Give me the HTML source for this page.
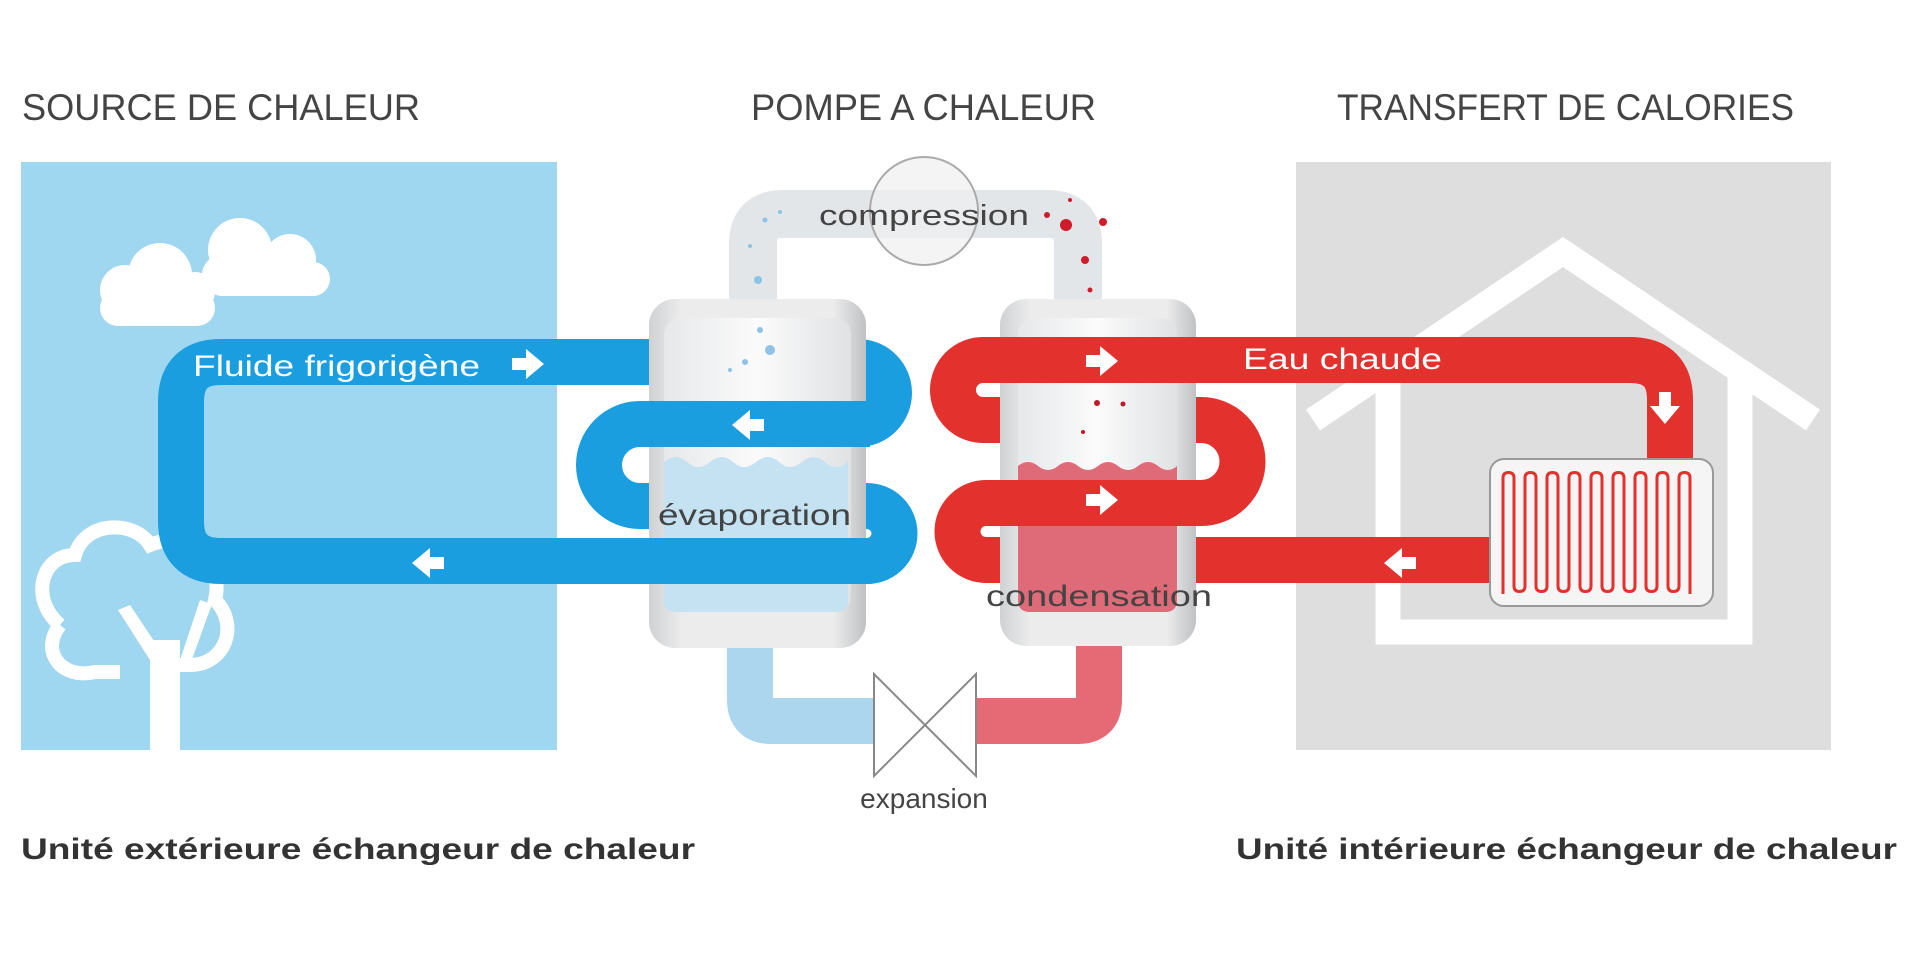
<!DOCTYPE html>
<html><head><meta charset="utf-8"><style>
html,body{margin:0;padding:0;background:#fff;}
svg{display:block;}
text{font-family:"Liberation Sans",sans-serif;}
</style></head><body>
<svg width="1920" height="962" viewBox="0 0 1920 962" xmlns="http://www.w3.org/2000/svg">
<defs>
<linearGradient id="cyl" x1="0" x2="1" y1="0" y2="0">
<stop offset="0" stop-color="#cfd1d4"/><stop offset="0.15" stop-color="#ececec"/><stop offset="0.85" stop-color="#ececec"/><stop offset="1" stop-color="#bfc1c4"/>
</linearGradient>
<linearGradient id="inner" x1="0" x2="1"><stop offset="0" stop-color="#e6e8ea"/><stop offset="0.5" stop-color="#fbfbfb"/><stop offset="1" stop-color="#e0e2e4"/></linearGradient>
</defs>
<rect width="1920" height="962" fill="#fff"/>
<text x="22" y="120" font-size="37" fill="#444" textLength="398" lengthAdjust="spacingAndGlyphs">SOURCE DE CHALEUR</text>
<text x="751" y="120" font-size="37" fill="#444" textLength="345" lengthAdjust="spacingAndGlyphs">POMPE A CHALEUR</text>
<text x="1337" y="120" font-size="37" fill="#444" textLength="457" lengthAdjust="spacingAndGlyphs">TRANSFERT DE CALORIES</text>
<rect x="21" y="162" width="536" height="588" fill="#9fd6f0"/>
<rect x="1296" y="162" width="535" height="588" fill="#dedede"/>
<g fill="#fff">
<circle cx="125" cy="290" r="25"/><circle cx="160" cy="275" r="32"/><circle cx="195" cy="292" r="20"/><rect x="100" y="290" width="115" height="36" rx="18"/>
<circle cx="240" cy="250" r="32"/><circle cx="290" cy="260" r="26"/><circle cx="222" cy="275" r="20"/><rect x="205" y="262" width="125" height="34" rx="17"/>
</g>
<g fill="none" stroke="#fff" stroke-width="14">
<path d="M60,625 C30,600 40,555 75,555 C85,520 135,520 150,545 C185,530 225,560 215,600 C240,625 225,665 190,665 L150,665 M60,625 C40,650 60,680 95,672 L120,672"/>
</g>
<g fill="#fff">
<rect x="150" y="640" width="30" height="112"/>
<path d="M150,660 L118,610 L130,605 L160,650Z"/>
<path d="M180,660 L200,600 L212,604 L190,665Z"/>
</g>
<g fill="none" stroke="#fff" stroke-width="25">
<polyline points="1313,420 1563,252 1813,420"/>
<polyline points="1388,372 1388,632 1740,632 1740,372"/>
</g>
<path d="M753,310 L753,244 Q753,214 783,214 L1048,214 Q1078,214 1078,244 L1078,310" fill="none" stroke="#e3e6e9" stroke-width="48"/>
<g fill="#8cc3e6"><circle cx="765" cy="220" r="2.5"/><circle cx="750" cy="246" r="2"/><circle cx="758" cy="280" r="4"/><circle cx="780" cy="212" r="2"/></g>
<g fill="#d01c2a"><circle cx="1066" cy="225" r="6"/><circle cx="1047" cy="215" r="3"/><circle cx="1103" cy="222" r="4"/><circle cx="1085" cy="260" r="4"/><circle cx="1090" cy="290" r="2.5"/><circle cx="1070" cy="200" r="2"/></g>
<circle cx="924" cy="211" r="54" fill="#f0f0f0" fill-opacity="0.7" stroke="#aaa" stroke-width="2"/>
<text x="924" y="225" font-size="29" fill="#444" text-anchor="middle" textLength="210" lengthAdjust="spacingAndGlyphs">compression</text>
<path d="M750,640 L750,700 Q750,721 771,721 L873,721" fill="none" stroke="#abd6ee" stroke-width="46"/>
<path d="M1099,640 L1099,700 Q1099,721 1078,721 L976,721" fill="none" stroke="#e66a76" stroke-width="46"/>
<path d="M874,674 L976,776 L976,674 L874,776Z" fill="#fff" stroke="#888" stroke-width="2"/>
<text x="924" y="808" font-size="28" fill="#444" text-anchor="middle">expansion</text>
<path d="M858,362 A31,31 0 0 1 858,424 L640,424 A41,41 0 0 0 640,506 L867,506 A27.5,27.5 0 0 1 867,561 L221,561 Q181,561 181,521 L181,402 Q181,362 221,362 Z" fill="none" stroke="#1a9ee0" stroke-width="46"/>
<path d="M1490,560 L986,560 A28.5,28.5 0 0 1 986,503 L1201,503 A41.5,41.5 0 0 0 1201,420 L983,420 A30,30 0 0 1 983,360 L1630,360 Q1670,360 1670,400 L1670,470" fill="none" stroke="#e3312d" stroke-width="46"/>
<rect x="649" y="299" width="217" height="349" rx="26" fill="url(#cyl)"/>
<rect x="664" y="318" width="187" height="294" rx="16" fill="url(#inner)"/>
<path d="M664,462 q12,-10 23,0 t23,0 t23,0 t23,0 t23,0 t23,0 t23,0 t23,0 V600 q0,12 -12,12 H676 q-12,0 -12,-12Z" fill="#c4e2f2"/>
<g fill="#8cc3e6"><circle cx="760" cy="330" r="3"/><circle cx="770" cy="350" r="5"/><circle cx="745" cy="362" r="3"/><circle cx="730" cy="370" r="2"/></g>
<rect x="1000" y="299" width="196" height="347" rx="26" fill="url(#cyl)"/>
<rect x="1018" y="318" width="159" height="294" rx="16" fill="url(#inner)"/>
<path d="M1018,466 q10,-8 20,0 t20,0 t20,0 t20,0 t20,0 t20,0 t20,0 t19,0 V600 q0,12 -12,12 H1030 q-12,0 -12,-12Z" fill="#e06b78"/>
<g fill="#c01828"><circle cx="1097" cy="403" r="3"/><circle cx="1123" cy="404" r="2.5"/><circle cx="1083" cy="432" r="2"/></g>
<rect x="645" y="401" width="225" height="46" fill="#1a9ee0"/>
<rect x="645" y="538" width="225" height="46" fill="#1a9ee0"/>
<rect x="995" y="337" width="205" height="46" fill="#e3312d"/>
<rect x="995" y="480" width="205" height="46" fill="#e3312d"/>
<rect x="1490" y="459" width="223" height="147" rx="14" fill="#f5f5f5" stroke="#999" stroke-width="2"/>
<path d="M1503,594 V478 q0,-5.5 5.5,-5.5 t5.5,5.5 V586 q0,5.5 5.5,5.5 t5.5,-5.5 V478 q0,-5.5 5.5,-5.5 t5.5,5.5 V586 q0,5.5 5.5,5.5 t5.5,-5.5 V478 q0,-5.5 5.5,-5.5 t5.5,5.5 V586 q0,5.5 5.5,5.5 t5.5,-5.5 V478 q0,-5.5 5.5,-5.5 t5.5,5.5 V586 q0,5.5 5.5,5.5 t5.5,-5.5 V478 q0,-5.5 5.5,-5.5 t5.5,5.5 V586 q0,5.5 5.5,5.5 t5.5,-5.5 V478 q0,-5.5 5.5,-5.5 t5.5,5.5 V586 q0,5.5 5.5,5.5 t5.5,-5.5 V478 q0,-5.5 5.5,-5.5 t5.5,5.5 V586 q0,5.5 5.5,5.5 t5.5,-5.5 V478 q0,-5.5 5.5,-5.5 t5.5,5.5 V586 q0,5.5 5.5,5.5 t5.5,-5.5 V478 q0,-5.5 5.5,-5.5 t5.5,5.5 V594" fill="none" stroke="#e3312d" stroke-width="3"/>
<g fill="#fff">
<path d="M512,358 h14 v-9 l18,15 l-18,15 v-9 h-14z"/>
<path d="M764,419 h-14 v-9 l-18,15 l18,15 v-9 h14z"/>
<path d="M444,557 h-14 v-9 l-18,15 l18,15 v-9 h14z"/>
<path d="M1086,355 h14 v-9 l18,15 l-18,15 v-9 h-14z"/>
<path d="M1086,494 h14 v-9 l18,15 l-18,15 v-9 h-14z"/>
<path d="M1416,557 h-14 v-9 l-18,15 l18,15 v-9 h14z"/>
<path d="M1659,392 v14 h-9 l15,18 l15,-18 h-9 v-14z"/>
</g>
<text x="193" y="376" font-size="30" fill="#fff" textLength="287" lengthAdjust="spacingAndGlyphs">Fluide frigorigène</text>
<text x="1243" y="369" font-size="30" fill="#fff" textLength="199" lengthAdjust="spacingAndGlyphs">Eau chaude</text>
<text x="658" y="525" font-size="30" fill="#444" textLength="193" lengthAdjust="spacingAndGlyphs">évaporation</text>
<text x="986" y="606" font-size="30" fill="#444" textLength="226" lengthAdjust="spacingAndGlyphs">condensation</text>
<text x="21" y="859" font-size="30" font-weight="bold" fill="#333" textLength="674" lengthAdjust="spacingAndGlyphs">Unité extérieure échangeur de chaleur</text>
<text x="1236" y="859" font-size="30" font-weight="bold" fill="#333" textLength="661" lengthAdjust="spacingAndGlyphs">Unité intérieure échangeur de chaleur</text>
</svg>
</body></html>
